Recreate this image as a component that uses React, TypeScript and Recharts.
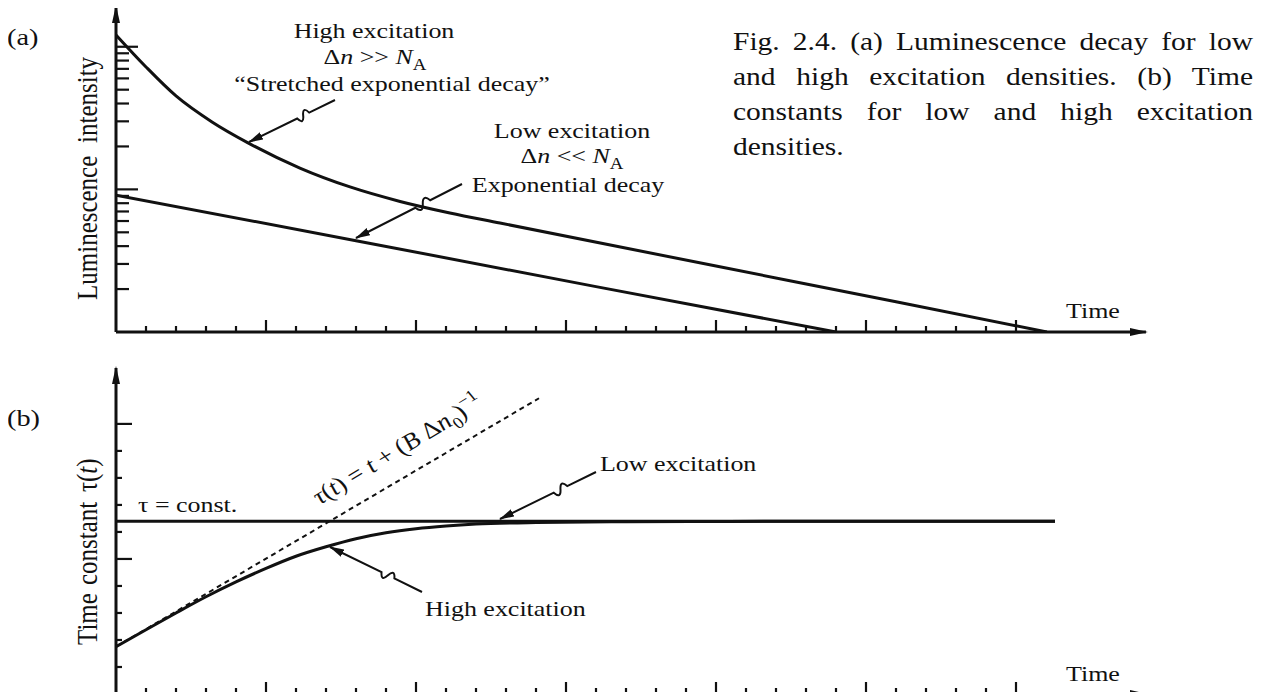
import { LineChart, Line, XAxis, YAxis } from "recharts";

// (a) luminescence intensity, log axis, time in tick units
const lowDecayT = [0, 8, 16, 24];
const lowDecayI = [9.1, 4.37, 2.08, 1];
const highDecayT = [0, 1, 2, 3.2, 4.4, 6.13, 7.8, 9.47, 11.13, 12.8, 20, 26, 31.03];
const highDecayI = [121, 72.2, 45.2, 29.7, 21.2, 14.1, 10.4, 8.23, 6.83, 5.81, 2.9, 1.63, 1];
const intensityTicks = [2, 3, 4, 5, 6, 7, 8, 9, 10, 20, 30, 40, 50, 60, 70, 80, 90, 100];

// (b) time constant
const tauLowT = [0, 31.3];
const tauLow = [6.4, 6.4];
const tauHighT = [0, 1, 2, 3, 4, 5, 6, 7, 8, 9, 10, 11, 12, 14, 17, 20, 25, 31.3];
const tauHigh = [1.75, 2.38, 3.0, 3.6, 4.15, 4.65, 5.1, 5.45, 5.75, 5.97, 6.12, 6.22, 6.29, 6.35, 6.38, 6.39, 6.4, 6.4];
const tauDashT = [0, 14.1];
const tauDash = [1.75, 10.95];
const tauTicks = [1, 2, 3, 4, 5, 6, 7, 8, 9, 10];

const timeTicks = [1, 2, 3, 4, 5, 6, 7, 8, 9, 10, 11, 12, 13, 14, 15, 16, 17, 18, 19, 20, 21, 22, 23, 24, 25, 26, 27, 28, 29, 30];
const timeMax = 34.33;

const INK = "#111";
const SX = 1.18;

const zip = (t: number[], v: number[]) => t.map((x, i) => ({ t: x, v: v[i] }));

function XTick(props: any) {
  const { x, y, payload } = props;
  const major = payload.value % 5 === 0;
  return <line x1={x} x2={x} y1={y} y2={y - (major ? 12 : 6)} stroke={INK} strokeWidth={2.2} />;
}

function yTick(majors: number[], long: number, short: number) {
  return (props: any) => {
    const { x, y, payload } = props;
    const major = majors.includes(payload.value);
    return <line x1={x} x2={x + (major ? long : short)} y1={y} y2={y} stroke={INK} strokeWidth={2.2} />;
  };
}

function T({ x, y, size = 22, rot = 0, anchor = "start", children }: any) {
  return (
    <text
      transform={`translate(${x},${y}) scale(${SX},1) rotate(${rot})`}
      fontSize={size}
      textAnchor={anchor}
      fill={INK}
    >
      {children}
    </text>
  );
}

// callout: straight stroke with a small S-kink, arrowhead at the tip
function squiggle(x0: number, y0: number, x1: number, y1: number) {
  const dx = x1 - x0, dy = y1 - y0;
  const L = Math.hypot(dx, dy);
  const ux = dx / L, uy = dy / L, nx = -uy, ny = ux;
  const p = (s: number, n: number) => `${x0 + ux * s + nx * n},${y0 + uy * s + ny * n}`;
  const a = 0.3 * L, k = 0.07 * L, w = 9;
  return `M${x0},${y0} L${p(a, 0)} Q${p(a + k / 2, w)} ${p(a + k, 0)} Q${p(a + 1.5 * k, -w)} ${p(a + 2 * k, 0)} L${x1},${y1}`;
}

const axisStyle = { stroke: INK, strokeWidth: 3 };

export default function App() {
  const captionLine = (txt: string, last = false) => (
    <div style={{ height: 35, textAlign: "justify", textAlignLast: last ? "left" : "justify", whiteSpace: "nowrap" as const }}>{txt}</div>
  );

  return (
    <div style={{ position: "relative", width: 1270, height: 700, margin: -8, background: "#fff", fontFamily: "'Liberation Serif', 'Times New Roman', serif", overflow: "hidden" }}>
      <svg width={0} height={0} style={{ position: "absolute" }}>
        <defs>
          <marker id="axisArrow" markerUnits="userSpaceOnUse" markerWidth={20} markerHeight={10} refX={16} refY={5} orient="auto-start-reverse">
            <path d="M0,1 L18,5 L0,9 z" fill={INK} />
          </marker>
          <marker id="callArrow" markerUnits="userSpaceOnUse" markerWidth={16} markerHeight={10} refX={14} refY={5} orient="auto">
            <path d="M0,1 L15,5 L0,9 z" fill={INK} />
          </marker>
        </defs>
      </svg>

      <div style={{ position: "absolute", left: 0, top: 0 }}>
        <LineChart width={1270} height={345} margin={{ top: 7, right: 1270 - 116 - 30 * timeMax, bottom: 0, left: 0 }}>
          <XAxis type="number" dataKey="t" domain={[0, timeMax]} ticks={timeTicks} interval={0} allowDataOverflow
            height={13} tickSize={0} tickMargin={0} tickLine={false} tick={XTick}
            axisLine={{ ...axisStyle, markerEnd: "url(#axisArrow)" }} />
          <YAxis type="number" scale="log" domain={[1, 190]} ticks={intensityTicks} interval={0} allowDataOverflow
            width={116} tickSize={0} tickMargin={0} tickLine={false} tick={yTick([10, 100], 22, 13)}
            axisLine={{ ...axisStyle, markerStart: "url(#axisArrow)" }} />
          <Line data={zip(lowDecayT, lowDecayI)} dataKey="v" type="linear" stroke={INK} strokeWidth={3} dot={false} isAnimationActive={false} />
          <Line data={zip(highDecayT, highDecayI)} dataKey="v" type="monotone" stroke={INK} strokeWidth={3} dot={false} isAnimationActive={false} />
        </LineChart>
      </div>

      <div style={{ position: "absolute", left: 0, top: 340 }}>
        <LineChart width={1270} height={360} margin={{ top: 28, right: 1270 - 116 - 30 * timeMax, bottom: 0, left: 0 }}>
          <XAxis type="number" dataKey="t" domain={[0, timeMax]} ticks={timeTicks} interval={0} allowDataOverflow
            height={6} tickSize={0} tickMargin={0} tickLine={false} tick={XTick}
            axisLine={{ ...axisStyle, markerEnd: "url(#axisArrow)" }} />
          <YAxis type="number" domain={[0, 12.07]} ticks={tauTicks} interval={0} allowDataOverflow
            width={116} tickSize={0} tickMargin={0} tickLine={false} tick={yTick([5, 10], 16, 6)}
            axisLine={{ ...axisStyle, markerStart: "url(#axisArrow)" }} />
          <Line data={zip(tauDashT, tauDash)} dataKey="v" type="linear" stroke={INK} strokeWidth={2} strokeDasharray="5 4" dot={false} isAnimationActive={false} />
          <Line data={zip(tauLowT, tauLow)} dataKey="v" type="linear" stroke={INK} strokeWidth={3} dot={false} isAnimationActive={false} />
          <Line data={zip(tauHighT, tauHigh)} dataKey="v" type="monotone" stroke={INK} strokeWidth={3} dot={false} isAnimationActive={false} />
        </LineChart>
      </div>

      <svg width={1270} height={700} style={{ position: "absolute", left: 0, top: 0, pointerEvents: "none" }}>
        {/* panel (a) */}
        <T x={7} y={45} size={24}>(a)</T>
        <T x={97} y={300} size={25} rot={-90}>Luminescence</T>
        <T x={97} y={143} size={25} rot={-90}>intensity</T>
        <T x={374} y={38} anchor="middle">High excitation</T>
        <T x={375} y={64} anchor="middle">
          Δ<tspan fontStyle="italic">n</tspan>{" >> "}<tspan fontStyle="italic">N</tspan>
          <tspan dy={6} fontSize={16}>A</tspan>
        </T>
        <T x={392} y={91} anchor="middle">“Stretched exponential decay”</T>
        <T x={572} y={138} anchor="middle">Low excitation</T>
        <T x={572} y={163} anchor="middle">
          Δ<tspan fontStyle="italic">n</tspan>{" << "}<tspan fontStyle="italic">N</tspan>
          <tspan dy={6} fontSize={16}>A</tspan>
        </T>
        <T x={568} y={192} anchor="middle">Exponential decay</T>
        <T x={1066} y={318}>Time</T>
        <path d={squiggle(335, 100, 249, 142)} fill="none" stroke={INK} strokeWidth={2} markerEnd="url(#callArrow)" />
        <path d={squiggle(462, 184, 356, 238)} fill="none" stroke={INK} strokeWidth={2} markerEnd="url(#callArrow)" />

        {/* panel (b) */}
        <T x={7} y={426} size={24}>(b)</T>
        <T x={97} y={645} size={25} rot={-90}>Time</T>
        <T x={97} y={585} size={25} rot={-90}>constant</T>
        <T x={97} y={492} size={25} rot={-90}>
          τ(<tspan fontStyle="italic">t</tspan>)
        </T>
        <T x={138} y={512}>τ = const.</T>
        <T x={320} y={505} size={23} rot={-35.3}>
          <tspan fontStyle="italic">τ</tspan>(<tspan fontStyle="italic">t</tspan>) = <tspan fontStyle="italic">t</tspan> + (
          <tspan fontStyle="italic">B</tspan> Δ<tspan fontStyle="italic">n</tspan>
          <tspan dy={6} fontSize={16}>0</tspan>
          <tspan dy={-6}>)</tspan>
          <tspan dy={-10} fontSize={16}>−1</tspan>
        </T>
        <T x={600} y={471}>Low excitation</T>
        <T x={425} y={616}>High excitation</T>
        <T x={1066} y={681}>Time</T>
        <path d={squiggle(596, 472, 500, 519)} fill="none" stroke={INK} strokeWidth={2} markerEnd="url(#callArrow)" />
        <path d={squiggle(422, 592, 330, 547)} fill="none" stroke={INK} strokeWidth={2} markerEnd="url(#callArrow)" />
      </svg>

      <div style={{ position: "absolute", left: 733, top: 24, width: 520 / SX, fontSize: 25, lineHeight: "35px", color: INK, transform: `scaleX(${SX})`, transformOrigin: "left top" }}>
        {captionLine("Fig. 2.4. (a) Luminescence decay for low")}
        {captionLine("and high excitation densities. (b) Time")}
        {captionLine("constants for low and high excitation")}
        {captionLine("densities.", true)}
      </div>
    </div>
  );
}
